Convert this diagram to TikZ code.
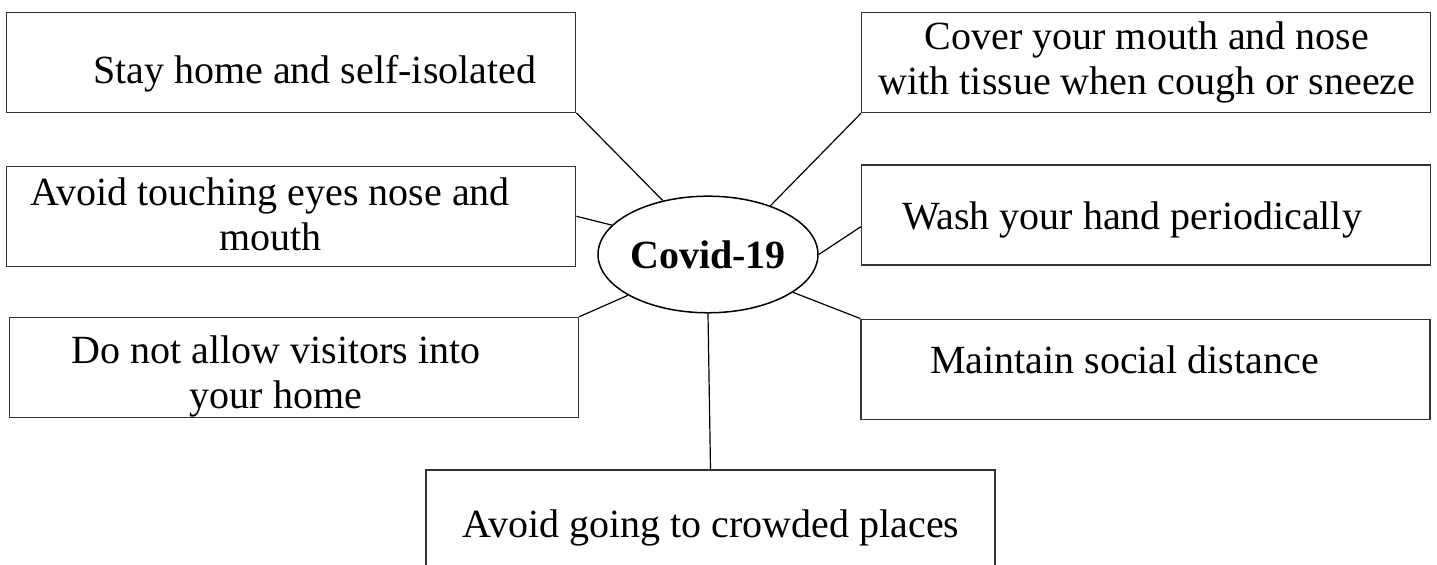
\documentclass[tikz,border=0pt]{standalone}
\usepackage{fontspec}
\setmainfont{Liberation Serif}
\usepackage{tikz}
\usetikzlibrary{shapes.geometric}
\tikzstyle{block} =	[draw=black!80, rectangle,
	line width=0.6pt,
	minimum width=284.5pt,
	minimum height=50pt,
	inner sep=0pt
	]
\tikzstyle{hub} = [draw, ellipse,
	line width=0.75pt,
	minimum width=108.7pt,
	minimum height=58.3pt,
	inner sep=0pt,
	font=\fontsize{20}{22.5}\selectfont\bfseries
	]
\tikzstyle{boxtext} = [align=center,
	anchor=base,
	inner sep=0pt,
	font=\fontsize{20}{22.5}\selectfont
	]
\tikzstyle{linie} = [draw,
	line width=0.6pt
	]

\begin{document}
\begin{tikzpicture}[x=0.5pt, y=-0.5pt]
\useasboundingbox (0,0) rectangle (1437,565);
    \node [hub] (covid) at (708,254.5) {Covid-19};

    \node [block] (b1) at (291.3,62.3) {};
    \node [block] (b2) at (1146,62.8) {};
    \node [block] (b3) at (291.3,216.3) {};
    \node [block] (b4) at (1146,215) {};
    \node [block] (b5) at (294.3,367.3) {};
    \node [block] (b6) at (1145.5,369.2) {};
    \node [block] (b7) at (710.5,520) {};

    % two-line texts sit on the baseline of their last line
    \node [boxtext] (t1) at (314.7,83.3) {Stay home and self-isolated};
    \node [boxtext] (t2) at (1147,95) {Cover your mouth and nose\\with tissue when cough or sneeze};
    \node [boxtext] (t3) at (270.4,250.5) {Avoid touching eyes nose and\\mouth};
    \node [boxtext] (t4) at (1132,230) {Wash your hand periodically};
    \node [boxtext] (t5) at (276,409) {Do not allow visitors into\\your home};
    \node [boxtext] (t6) at (1124.4,373.3) {Maintain social distance};
    \node [boxtext] (t7) at (711,538) {Avoid going to crowded places};

    \draw [linie] (b1.south east) -- (covid.130);
    \draw [linie] (b2.south west) -- (covid.38);
    \draw [linie] (b3.east) -- (covid.163);
    \draw [linie] ([yshift=-5.85pt]b4.west) -- (covid.east);
    \draw [linie] (b5.north east) -- (covid.207);
    \draw [linie] (b6.north west) -- (covid.336);
    \draw [linie] (covid.south) -- (b7.north);
\end{tikzpicture}
\end{document}
